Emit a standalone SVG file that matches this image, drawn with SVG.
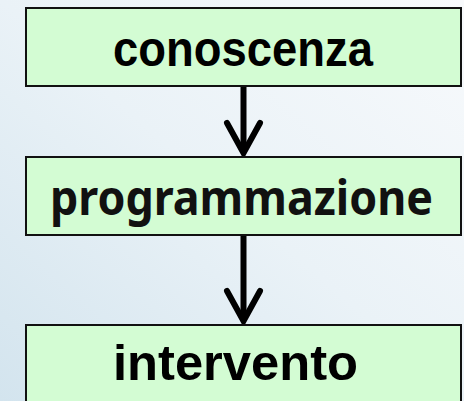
<svg xmlns="http://www.w3.org/2000/svg" width="464" height="401" viewBox="0 0 464 401">
<defs>
<linearGradient id="bg" x1="0" y1="1" x2="1" y2="0">
<stop offset="0" stop-color="#d3e4ee"/>
<stop offset="0.5" stop-color="#eaf2f7"/>
<stop offset="1" stop-color="#f8fafc"/>
</linearGradient>
<style>
.box{fill:#d3fcd3;stroke:#111;stroke-width:2}
.t1{font-family:"Liberation Sans",Arial,sans-serif;font-weight:bold;font-size:50px;fill:#000}
.t2{font-family:"Noto Sans","Open Sans",sans-serif;font-weight:bold;font-size:48px;fill:#111}
.ln{stroke:#000;stroke-width:6;fill:none}
.hd{stroke:#000;stroke-width:6;fill:none;stroke-linecap:round;stroke-linejoin:miter}
</style>
</defs>
<rect x="0" y="0" width="464" height="401" fill="url(#bg)"/>
<g id="connectors">
<line class="ln" x1="243.5" y1="86" x2="243.5" y2="152"/>
<polyline class="hd" points="227,123 243.5,153 260,123"/>
<line class="ln" x1="243.5" y1="235" x2="243.5" y2="320"/>
<polyline class="hd" points="227,291 243.5,321 260,291"/>
</g>
<g id="n1">
<rect class="box" x="26" y="8" width="435" height="78"/>
<text class="t1" x="243" y="66" text-anchor="middle" textLength="260" lengthAdjust="spacingAndGlyphs">conoscenza</text>
</g>
<g id="n2">
<rect class="box" x="26" y="157" width="435" height="78"/>
<text class="t2" x="241.5" y="215" text-anchor="middle" textLength="383" lengthAdjust="spacingAndGlyphs">programmazione</text>
</g>
<g id="n3">
<rect class="box" x="26" y="325" width="435" height="90"/>
<text class="t1" x="235.5" y="380" text-anchor="middle" textLength="245" lengthAdjust="spacingAndGlyphs">intervento</text>
</g>
</svg>
